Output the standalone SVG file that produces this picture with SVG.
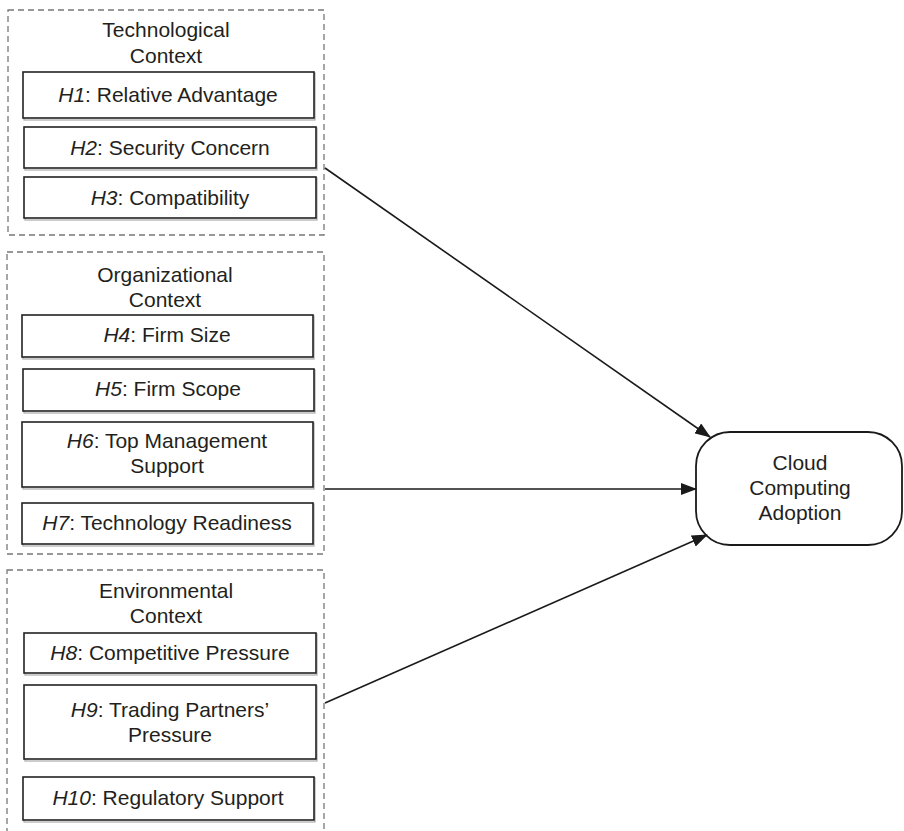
<svg xmlns="http://www.w3.org/2000/svg" width="904" height="831" viewBox="0 0 904 831">
<style>
.ctx{fill:none;stroke:#777;stroke-width:1.3;stroke-dasharray:6,4}
.box{fill:#fff;stroke:#222;stroke-width:1.6}
.sh{fill:none;stroke:#aaa;stroke-width:1.2}
text{font-family:"Liberation Sans",Arial,sans-serif;font-size:21px;fill:#231f20;text-anchor:middle}
.it{font-style:italic}
.conn{stroke:#1a1a1a;stroke-width:1.6;fill:none}
</style>
<defs>
<marker id="ah" markerWidth="16" markerHeight="12" refX="15" refY="6" orient="auto" markerUnits="userSpaceOnUse">
<path d="M0,0 L16,6 L0,12 Z" fill="#1a1a1a"/>
</marker>
</defs>
<rect width="904" height="831" fill="#fff"/>

<g id="technological-context">
<rect class="ctx" x="8" y="10" width="316" height="225"/>
<text x="166" y="37">Technological</text>
<text x="166" y="63">Context</text>
</g>
<g id="h1">
<rect class="sh" x="24" y="73" width="291" height="47"/>
<rect class="box" x="23" y="72" width="291" height="46"/>
<text x="168" y="102"><tspan class="it">H1</tspan>: Relative Advantage</text>
</g>
<g id="h2">
<rect class="sh" x="25" y="128" width="292" height="42"/>
<rect class="box" x="24" y="127" width="292" height="41"/>
<text x="170" y="155"><tspan class="it">H2</tspan>: Security Concern</text>
</g>
<g id="h3">
<rect class="sh" x="25" y="178" width="292" height="42"/>
<rect class="box" x="24" y="177" width="292" height="41"/>
<text x="170" y="205"><tspan class="it">H3</tspan>: Compatibility</text>
</g>

<g id="organizational-context">
<rect class="ctx" x="7" y="252" width="317" height="302"/>
<text x="165" y="282">Organizational</text>
<text x="165" y="307">Context</text>
</g>
<g id="h4">
<rect class="sh" x="23" y="316" width="291" height="43"/>
<rect class="box" x="22" y="315" width="291" height="42"/>
<text x="167" y="342"><tspan class="it">H4</tspan>: Firm Size</text>
</g>
<g id="h5">
<rect class="sh" x="24" y="370" width="291" height="43"/>
<rect class="box" x="23" y="369" width="291" height="42"/>
<text x="168" y="396"><tspan class="it">H5</tspan>: Firm Scope</text>
</g>
<g id="h6">
<rect class="sh" x="23" y="423" width="291" height="66"/>
<rect class="box" x="22" y="422" width="291" height="65"/>
<text x="167" y="448"><tspan class="it">H6</tspan>: Top Management</text>
<text x="167" y="473">Support</text>
</g>
<g id="h7">
<rect class="sh" x="23" y="504" width="291" height="42"/>
<rect class="box" x="22" y="503" width="291" height="41"/>
<text x="167" y="530"><tspan class="it">H7</tspan>: Technology Readiness</text>
</g>

<g id="environmental-context">
<rect class="ctx" x="7" y="570" width="317" height="280"/>
<text x="166" y="598">Environmental</text>
<text x="166" y="623">Context</text>
</g>
<g id="h8">
<rect class="sh" x="25" y="634" width="292" height="41"/>
<rect class="box" x="24" y="633" width="292" height="40"/>
<text x="170" y="660"><tspan class="it">H8</tspan>: Competitive Pressure</text>
</g>
<g id="h9">
<rect class="sh" x="25" y="686" width="292" height="75"/>
<rect class="box" x="24" y="685" width="292" height="74"/>
<text x="170" y="717"><tspan class="it">H9</tspan>: Trading Partners’</text>
<text x="170" y="742">Pressure</text>
</g>
<g id="h10">
<rect class="sh" x="24" y="778" width="291" height="44"/>
<rect class="box" x="23" y="777" width="291" height="43"/>
<text x="168" y="805"><tspan class="it">H10</tspan>: Regulatory Support</text>
</g>

<g id="cloud-computing-adoption">
<rect x="696" y="432" width="206" height="113" rx="34" ry="34" fill="#fff" stroke="#1a1a1a" stroke-width="1.8"/>
<text x="800" y="470">Cloud</text>
<text x="800" y="495">Computing</text>
<text x="800" y="520">Adoption</text>
</g>

<g id="connectors">
<line class="conn" x1="325" y1="168" x2="710" y2="437" marker-end="url(#ah)"/>
<line class="conn" x1="325" y1="489" x2="696" y2="489" marker-end="url(#ah)"/>
<line class="conn" x1="325" y1="703" x2="707" y2="535" marker-end="url(#ah)"/>
</g>
</svg>
